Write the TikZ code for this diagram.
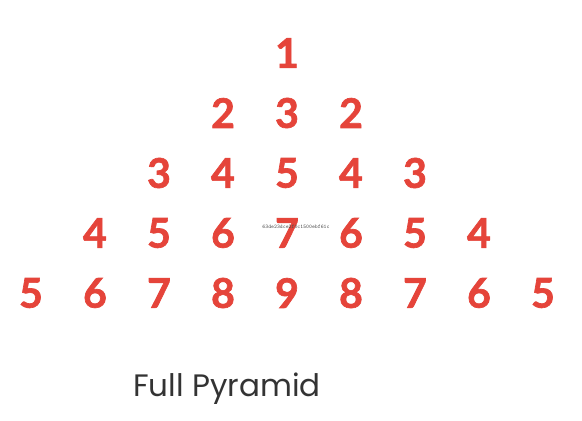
\documentclass[tikz,border=0pt]{standalone}
\usepackage{fontspec}
\setmainfont{Lato}
\newfontfamily\numfont[FakeBold=1.6]{Lato Bold}
\newfontfamily\titlefont{Poppins}
\usepackage{tikz}

\definecolor{numred}{HTML}{E5443A}
\definecolor{capgray}{HTML}{333333}

\begin{document}
\begin{tikzpicture}[x=1pt,y=-1pt,
  num/.style={font=\fontsize{41}{44}\numfont,text=numred,inner sep=0pt,anchor=center},
  titletxt/.style={font=\fontsize{31}{34}\titlefont,text=capgray,inner sep=0pt},
  stamptxt/.style={font=\fontsize{5.5}{6}\selectfont\ttfamily,text=black!70,inner sep=0pt},
]
\useasboundingbox[fill=white] (0,0) rectangle (582,421);

\def\dx{64}
\def\dy{60}

% rows of the pyramid: value = 2r-1-|k|
\foreach \r in {1,...,5}{
  \pgfmathtruncatemacro{\kmax}{\r-1}
  \foreach \k in {-\kmax,...,\kmax}{
    \pgfmathtruncatemacro{\v}{2*\r-1-abs(\k)}
    \node[num] (n-\r-\k) at ({287+\dx*\k},{53+\dy*(\r-1)}) {\v};
  }
}

\node[stamptxt] (stamp) at (296,227) {63de23dce2f0c1500ebf61c};

\node[titletxt] (title) at (227,389) {Full Pyramid};

\end{tikzpicture}
\end{document}
